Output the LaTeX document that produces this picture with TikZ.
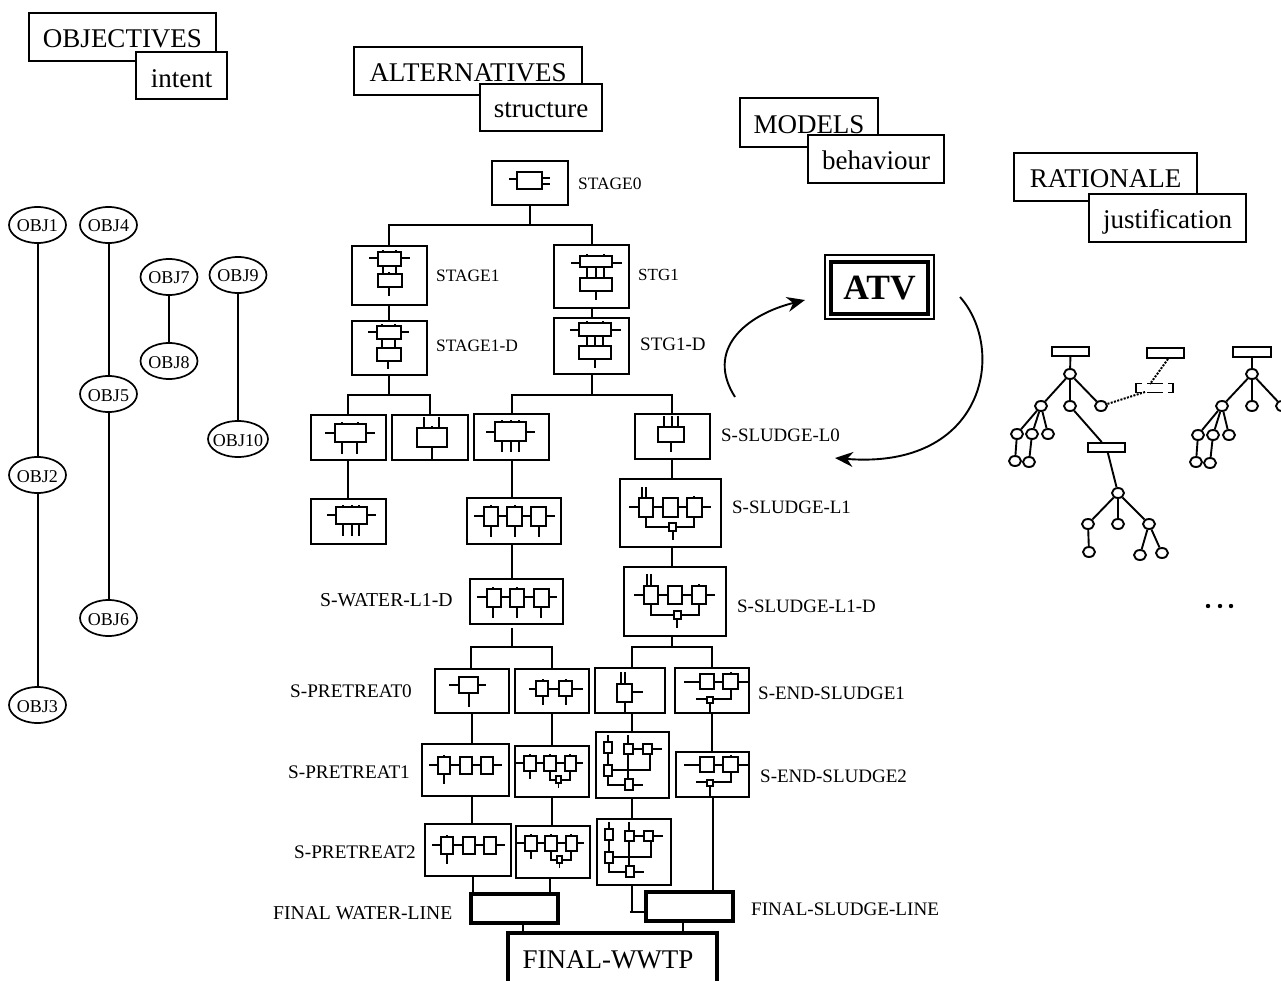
\documentclass[tikz,border=0pt]{standalone}
\usepackage{fontspec}
\setmainfont{Liberation Serif}
\usetikzlibrary{arrows.meta,calc,shapes.geometric}
\newcommand\bx[6][]{\pgfmathsetmacro\bxw{#5-#3}\pgfmathsetmacro\bxh{#6-#4}\pgfmathsetmacro\bxcx{(#3+#5)/2}\pgfmathsetmacro\bxcy{(#4+#6)/2}%
\node[boxst,minimum width=\bxw pt,minimum height=\bxh pt,#1] (#2) at (\bxcx,\bxcy) {};}
\newcommand\hd[7]{\pgfmathsetmacro\bxw{#4-#2}\pgfmathsetmacro\bxh{#5-#3}\pgfmathsetmacro\bxcx{(#2+#4)/2}\pgfmathsetmacro\bxcy{(#3+#5)/2}\pgfmathsetmacro\bxty{\bxcy+#7}%
\node[boxst,minimum width=\bxw pt,minimum height=\bxh pt] (#1) at (\bxcx,\bxcy) {};\node[fontbig] (#1t) at (\bxcx,\bxty) {#6};}
\newcommand\ir[4]{\draw[ic,fill=white] (#1,#2) rectangle (#3,#4);}
\newcommand\il[4]{\draw[ic] (#1,#2) -- (#3,#4);}
\newcommand\nb[2]{\draw[ic] (#1,#2) -- (#1,#2-2);}
\newcommand\vc[3]{\draw[conn] (#1,0 |- #2) -- (#1,0 |- #3);}
\newcommand\obj[5][57]{\node[objst,minimum width=#1pt] (#2) at (#3,#4) {\makebox[0pt]{\raisebox{-7pt}[0pt][0pt]{#5}}};}
\newcommand\lab[5]{\node[labst,font=\fontsize{#5}{20}\selectfont] (#1) at (#2,#3+1) {#4};}
\newcommand\tn[3]{\node[treen] (#1) at (#2,#3) {};}
\newcommand\tr[5]{\node[treer,minimum width=#4 pt,minimum height=#5 pt] (#1) at (#2,#3) {};}
\newcommand\icThree{\il{-9}{8}{64}{8}\nb{6}{0}\ir{0}{0}{12}{17}\ir{22}{0}{34}{17}\ir{43}{0}{55}{17}\il{6}{17}{6}{27}}
\newcommand\icFB{\il{-8}{7}{59}{7}\nb{6}{0}\nb{26}{0}\nb{46}{0}\ir{0}{0}{12}{15}\ir{20}{0}{32}{15}\ir{41}{0}{52}{15}\il{6}{15}{6}{23}%
\draw[ic] (26,15) -- (26,24) -- (46,24) -- (46,15);\ir{32}{20}{37}{27}\il{34.5}{27}{34.5}{32}}
\newcommand\icEnd{\il{-16}{8}{48}{8}\nb{31}{0}\ir{0}{0}{14}{15}\ir{23}{0}{38}{15}%
\draw[ic] (-4,25) -- (31,25) -- (31,15);\ir{7}{23}{13}{29}\il{10}{29}{10}{39}}
\newcommand\icCx{\il{4}{-7}{4}{0}\ir{0}{0}{8}{11}\il{4}{11}{4}{23}\il{24}{-7}{24}{2}%
\draw[ic] (8,28) -- (46,28) -- (46,12);\il{24}{12}{24}{37}\il{29}{7}{39}{7}\il{48}{7}{58}{7}\il{29}{43}{39}{43}%
\draw[ic] (4,34) -- (4,43) -- (21,43);\ir{0}{23}{8}{34}\ir{20}{2}{29}{12}\ir{39}{2}{48}{12}\ir{21}{37}{29}{48}}
\tikzset{
 boxst/.style={draw=black,line width=2pt,fill=white,inner sep=0pt,outer sep=0pt},
 thickbox/.style={line width=4.4pt},
 conn/.style={draw=black,line width=2pt},
 ic/.style={draw=black,line width=1.9pt},
 fontbig/.style={font=\fontsize{27}{30}\selectfont,inner sep=0pt},
 labst/.style={anchor=west,inner sep=0pt},
 objst/.style={draw=black,ellipse,line width=1.7pt,fill=white,inner sep=0pt,minimum height=36pt,font=\fontsize{18}{20}\selectfont},
 treen/.style={draw=black,ellipse,line width=1.9pt,fill=white,inner sep=0pt,minimum width=12pt,minimum height=10pt},
 treer/.style={draw=black,line width=1.9pt,fill=white,inner sep=0pt},
 tl/.style={draw=black,line width=1.9pt},
 dots/.style={draw=black,line width=2pt,dash pattern=on 2pt off 1.4pt},
}
\begin{document}
\begin{tikzpicture}[x=1pt,y=-1pt]
\useasboundingbox (0,0) rectangle (1281,981);
\clip (0,0) rectangle (1281,981);
\fill[white] (0,0) rectangle (1281,981);
% headers
\hd{objectives}{29}{13}{216}{61}{OBJECTIVES}{2}
\hd{intent}{136}{52}{227}{99}{intent}{3}
\hd{alternatives}{354}{47}{582}{95}{ALTERNATIVES}{2}
\hd{structure}{480}{84}{602}{131}{structure}{3}
\hd{models}{740}{98}{878}{147}{MODELS}{2}
\hd{behaviour}{808}{135}{944}{183}{behaviour}{1}
\hd{rationale}{1014}{153}{1197}{201}{RATIONALE}{2}
\hd{justification}{1089}{194}{1246}{242}{justification}{4}
% objectives
\obj{o1}{37.5}{225}{OBJ1}\obj{o2}{37.5}{475}{OBJ2}\obj{o3}{37.5}{705}{OBJ3}
\obj{o4}{108.5}{225}{OBJ4}\obj{o5}{108.5}{394}{OBJ5}\obj{o6}{108.5}{618}{OBJ6}
\obj{o7}{169}{277}{OBJ7}\obj{o8}{169}{361}{OBJ8}
\obj{o9}{238}{275}{OBJ9}\obj[60]{o10}{238}{439}{OBJ10}
\draw[conn] (o1)--(o2) (o2)--(o3) (o4)--(o5) (o5)--(o6) (o7)--(o8) (o9)--(o10);
% alternatives boxes
\bx{stage0}{492}{161}{568}{205}
\bx{stage1}{352}{246}{427}{305}
\bx{stage1d}{352}{321}{427}{375}
\bx{stg1}{554}{245}{629}{308}
\bx{stg1d}{554}{318}{629}{374}
\bx{a1}{311}{415}{386}{460}
\bx{a2}{392}{415}{468}{460}
\bx{a3}{474}{414}{549}{460}
\bx{a4}{635}{414}{710}{459}
\bx{a5}{311}{499}{386}{544}
\bx{swl}{467}{498}{561}{544}
\bx{swld}{470}{579}{563}{624}
\bx{ssl1}{620}{479}{721}{547}
\bx{ssl1d}{624}{567}{726}{636}
\bx{pt0}{435}{669}{509}{713}
\bx{pt0b}{515}{669}{589}{713}
\bx{pt0c}{595}{668}{665}{713}
\bx{end1}{675}{668}{749}{713}
\bx{pt1}{422}{744}{509}{796}
\bx{pt1b}{515}{746}{589}{797}
\bx{cx1}{596}{732}{669}{798}
\bx{end2}{676}{752}{749}{797}
\bx{pt2}{425}{824}{511}{876}
\bx{pt2b}{516}{826}{590}{878}
\bx{cx2}{597}{819}{671}{885}
\bx[thickbox]{fwl}{471}{894}{558}{923}
\bx[thickbox]{fsl}{646}{892}{733}{921}
\bx[thickbox]{wwtp}{508}{933}{717}{1000}
% connectors
\coordinate (b0) at (530,225);
\vc{530}{stage0.south}{b0}
\draw[conn] (389,0 |- stage1.north) |- (b0) -| (592,0 |- stg1.north);
\vc{389}{stage1.south}{stage1d.north}
\vc{592}{stg1.south}{stg1d.north}
\coordinate (b1) at (389,395);
\vc{389}{stage1d.south}{b1}
\draw[conn] (348,0 |- a1.north) |- (b1) -| (430,0 |- a2.north);
\coordinate (b2) at (592,395);
\vc{592}{stg1d.south}{b2}
\draw[conn] (512,0 |- a3.north) |- (b2) -| (672,0 |- a4.north);
\vc{348}{a1.south}{a5.north}
\vc{512}{a3.south}{swl.north}
\vc{512}{swl.south}{swld.north}
\vc{672}{a4.south}{ssl1.north}
\vc{672}{ssl1.south}{ssl1d.north}
\coordinate (b3t) at (512,628);
\coordinate (b3) at (512,647);
\vc{512}{b3t}{b3}
\draw[conn] (471,0 |- pt0.north) |- (b3) -| (552,0 |- pt0b.north);
\coordinate (b4) at (672,647);
\vc{672}{ssl1d.south}{b4}
\draw[conn] (632,0 |- pt0c.north) |- (b4) -| (712,0 |- end1.north);
\vc{472}{pt0.south}{pt1.north}
\vc{552}{pt0b.south}{pt1b.north}
\vc{632}{pt0c.south}{cx1.north}
\vc{712}{end1.south}{end2.north}
\vc{472}{pt1.south}{pt2.north}
\vc{552}{pt1b.south}{pt2b.north}
\vc{632}{cx1.south}{cx2.north}
\vc{473}{pt2.south}{fwl.north}
\vc{550}{pt2b.south}{fwl.north}
\vc{713}{end2.south}{fsl.north}
\coordinate (b5) at (644,912);
\draw[conn] (632,0 |- cx2.south) -- (632,912) -- (b5);
\il{630}{912}{634}{912}
\vc{523}{fwl.south}{wwtp.north}
\vc{683}{fsl.south}{wwtp.north}
\node[fontbig] (wwtpt) at (608,960) {FINAL-WWTP};
% icons
\il{509}{179}{517}{179}\il{542}{178}{550}{178}\il{542}{184}{550}{184}\ir{517}{172}{542}{189}
% stage1
\il{369}{258}{410}{258}\il{383}{266}{383}{274}\il{396}{266}{396}{274}\il{389}{287}{389}{296}\nb{383}{252}\nb{396}{252}\ir{378}{252}{401}{266}\nb{389}{274}\ir{378}{274}{402}{287}
% stage1-d
\il{368}{332}{409}{332}\il{382}{339}{382}{348}\il{395}{339}{395}{348}\il{388}{361}{388}{369}\nb{382}{326}\nb{395}{326}\ir{377}{326}{401}{339}\ir{377}{348}{401}{361}
% stg1
\il{571}{263}{622}{263}\il{587}{267}{587}{278}\il{596}{267}{596}{278}\il{604}{267}{604}{278}\il{596}{291}{596}{300}\nb{587}{256}\nb{604}{256}\ir{580}{256}{612}{267}\ir{580}{278}{612}{291}
% stg1-d
\il{570}{330}{621}{330}\il{587}{336}{587}{346}\il{595}{336}{595}{346}\il{603}{336}{603}{346}\il{595}{359}{595}{368}\nb{587}{323}\nb{603}{323}\ir{579}{323}{611}{336}\ir{579}{346}{611}{359}
% a1
\il{325}{433}{375}{433}\il{342}{442}{342}{454}\il{357}{442}{357}{454}\nb{342}{424}\nb{358}{424}\ir{335}{424}{366}{442}
% a2
\il{424}{417}{424}{428}\il{439}{417}{439}{428}\il{432}{447}{432}{460}\nb{432}{428}\ir{417}{428}{447}{447}
% a3
\il{486}{432}{535}{432}\il{502}{441}{502}{452}\il{511}{441}{511}{452}\il{519}{441}{519}{452}\nb{502}{422}\nb{511}{422}\nb{519}{422}\ir{495}{422}{526}{441}
% a4
\il{664}{416}{664}{427}\il{672}{416}{672}{427}\il{678}{416}{678}{427}\il{671}{442}{671}{452}\ir{658}{427}{684}{442}
% a5
\il{327}{515}{376}{515}\il{343}{524}{343}{536}\il{352}{524}{352}{536}\il{359}{524}{359}{536}\nb{343}{507}\nb{352}{507}\nb{359}{507}\ir{336}{507}{367}{524}
% swl
\il{474}{516}{555}{516}\il{491}{526}{491}{537}\il{515}{526}{515}{537}\il{539}{526}{539}{537}\nb{491}{507}\nb{515}{507}\ir{484}{507}{498}{526}\ir{507}{507}{522}{526}\ir{531}{507}{546}{526}
% swld
\il{477}{597}{557}{597}\il{493}{607}{493}{618}\il{517}{607}{517}{618}\il{541}{607}{541}{618}\nb{493}{589}\nb{517}{589}\ir{487}{589}{501}{607}\ir{510}{589}{524}{607}\ir{534}{589}{549}{607}
% ssl1
\il{629}{507}{711}{507}\il{642}{487}{642}{498}\il{646}{487}{646}{498}\draw[ic] (646,517) -- (646,527) -- (694,527) -- (694,517);\il{673}{531}{673}{540}\nb{694}{498}\ir{639}{498}{653}{517}\ir{663}{498}{678}{517}\ir{687}{498}{702}{517}\ir{669}{523}{676}{531}
% ssl1d
\il{634}{595}{715}{595}\il{647}{574}{647}{586}\il{651}{574}{651}{586}\draw[ic] (651,604) -- (651,615) -- (699,615) -- (699,604);\il{677}{619}{677}{628}\nb{699}{586}\ir{644}{586}{658}{604}\ir{668}{586}{682}{604}\ir{692}{586}{706}{604}\ir{674}{611}{681}{619}
% pt0
\il{449}{685}{486}{685}\il{469}{693}{469}{707}\ir{459}{677}{478}{693}
% pt0b
\il{529}{689}{583}{689}\il{543}{696}{543}{705}\il{566}{696}{566}{705}\nb{543}{681}\nb{566}{681}\ir{536}{681}{548}{696}\ir{559}{681}{572}{696}
% pt0c
\il{621}{672}{621}{684}\il{625}{672}{625}{684}\il{632}{692}{643}{692}\il{625}{702}{625}{712}\ir{617}{684}{632}{702}
% end1 end2
\begin{scope}[shift={(700,674)}]\icEnd\end{scope}
\begin{scope}[shift={(700,757)}]\icEnd\end{scope}
% pt1, pt2
\begin{scope}[shift={(438,757)}]\icThree\end{scope}
\begin{scope}[shift={(441,837)}]\icThree\end{scope}
% pt1b, pt2b
\begin{scope}[shift={(524,756)}]\icFB\end{scope}
\begin{scope}[shift={(525,836)}]\icFB\end{scope}
% complex
\begin{scope}[shift={(604,742)}]\icCx\end{scope}
\begin{scope}[shift={(605,829)}]\icCx\end{scope}
% labels
\lab{l1}{578}{183}{STAGE0}{17.4}
\lab{l2}{436}{275}{STAGE1}{17.4}
\lab{l3}{638}{274}{STG1}{17}
\lab{l4}{436}{345}{STAGE1-D}{17.4}
\lab{l5}{640}{343}{STG1-D}{19}
\lab{l6}{721}{434}{S-SLUDGE-L0}{18.9}
\lab{l7}{732}{506}{S-SLUDGE-L1}{18.9}
\lab{l8}{320}{599}{S-WATER-L1-D}{19.7}
\lab{l9}{737}{605}{S-SLUDGE-L1-D}{18.9}
\lab{l10}{290}{690}{S-PRETREAT0}{19.2}
\lab{l11}{758}{692}{S-END-SLUDGE1}{19}
\lab{l12}{288}{771}{S-PRETREAT1}{19.2}
\lab{l13}{760}{775}{S-END-SLUDGE2}{19}
\lab{l14}{294}{851}{S-PRETREAT2}{19.2}
\lab{l15}{273}{912}{FINAL WATER-LINE}{19.6}
\lab{l16}{751}{908}{FINAL-SLUDGE-LINE}{19.1}
% ATV
\node[draw=black,line width=1.4pt,minimum width=109pt,minimum height=64pt,inner sep=0pt] (atvo) at (879.5,287) {};
\node[draw=black,line width=4.4pt,minimum width=97pt,minimum height=52pt,inner sep=0pt,font=\fontsize{35.5}{40}\selectfont\bfseries] (atv) at (879.5,288) {ATV};
\coordinate (c1a) at (735,397);
\coordinate (c1b) at (805,300);
\coordinate (c2a) at (960,297);
\coordinate (c2b) at (835,458);
\draw[line width=1.9pt,-{Stealth[length=18pt,width=15pt]}] (c1a) .. controls (705,350) and (745,315) .. (c1b);
\draw[line width=1.9pt,-{Stealth[length=18pt,width=15pt]}] (c2a) .. controls (1007,350) and (985,470) .. (c2b);
% trees
\tr{r1}{1070.5}{351.5}{37}{9}
\tn{n1}{1070}{374}
\tn{n2}{1041}{406}\tn{n3}{1070}{406}\tn{n4}{1101}{406}
\tn{n5}{1017}{434}\tn{n6}{1032}{434}\tn{n7}{1048}{434}
\tn{n8}{1015}{461}\tn{n9}{1029}{462}
\tr{r2}{1106.5}{447.5}{37}{9}
\tn{n10}{1118}{493}
\tn{n11}{1088}{524}\tn{n12}{1118}{524}\tn{n13}{1149}{524}
\tn{n14}{1089}{552}\tn{n15}{1140}{555}\tn{n16}{1162}{553}
\tr{r3}{1165.5}{353}{37}{10}
\draw[tl] (r1)--(n1) (n1)--(n2) (n1)--(n3) (n1)--(n4) (n2)--(n5) (n2)--(n6) (n2)--(n7) (n5)--(n8) (n6)--(n9) (n3)--(r2) (r2)--(n10) (n10)--(n11) (n10)--(n12) (n10)--(n13) (n11)--(n14) (n13)--(n15) (n13)--(n16);
% dashed constraint box
\coordinate (dt) at (1150,384);
\coordinate (db) at (1145,392);
\draw[ic] (1142,383.5) -- (1136,383.5) -- (1136,392.5) -- (1142,392.5);
\draw[ic] (1147,383.5) -- (1163,383.5) (1147,392.5) -- (1163,392.5);
\draw[ic] (1168,383.5) -- (1173,383.5) -- (1173,392.5) -- (1168,392.5);
\draw[dots] (r3.south -| 1168,0) -- (dt);
\draw[dots] (n4) -- (db);
\tr{s1}{1252}{352}{38}{10}
\tn{m1}{1252}{374}
\tn{m2}{1222}{406}\tn{m3}{1252}{406}\tn{m4}{1282}{406}
\tn{m5}{1198}{435}\tn{m6}{1213}{435}\tn{m7}{1229}{435}
\tn{m8}{1196}{462}\tn{m9}{1210}{463}
\draw[tl] (s1)--(m1) (m1)--(m2) (m1)--(m3) (m1)--(m4) (m2)--(m5) (m2)--(m6) (m2)--(m7) (m5)--(m8) (m6)--(m9);
\fill (1208,606) circle (2.2pt) (1220,606) circle (2.2pt) (1231,606) circle (2.2pt);
\end{tikzpicture}
\end{document}
